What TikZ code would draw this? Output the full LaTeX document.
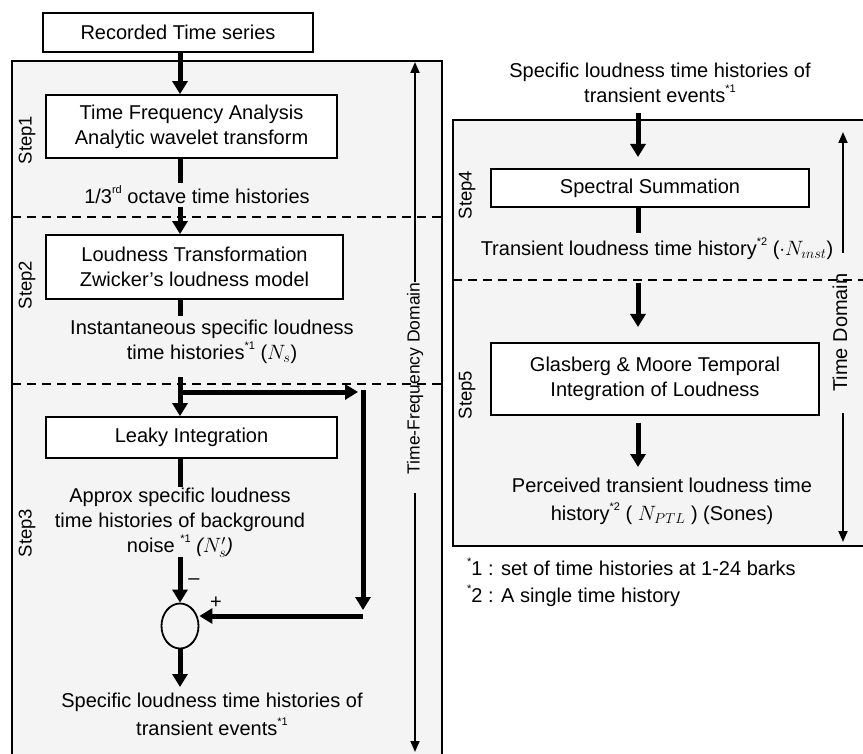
\documentclass[tikz,border=0pt]{standalone}
\usepackage{fontspec}
\setmainfont{Liberation Sans}
\usetikzlibrary{arrows.meta,shapes.geometric}
\definecolor{panel}{HTML}{F4F4F4}
\newcommand\sups[1]{\raisebox{0.5em}{\fontsize{11}{11}\selectfont #1}}
\begin{document}
\begin{tikzpicture}[x=1pt,y=-1pt,
  txt/.style={font=\fontsize{20}{25}\selectfont, inner sep=0pt, align=center},
  boxnode/.style={txt, draw, fill=white, line width=1.8pt},
  panelbox/.style={draw, fill=panel, line width=1.8pt},
  steplabel/.style={font=\fontsize{18.5}{22}\selectfont, rotate=90, inner sep=0pt},
  thk/.style={line width=5pt},
  arr/.style={line width=5pt, -{Triangle[length=13pt,width=15pt]}},
  domarr/.style={line width=1.8pt, -{Triangle[length=11pt,width=9pt]}},
  sep/.style={dash pattern=on 9pt off 6pt, line width=1.5pt},
]
\useasboundingbox (0,0) rectangle (863,754);
% panels
\path[panelbox] (12,61) rectangle (442,780);
\path[panelbox] (453,120) rectangle (890,546);
% separators
\draw[sep] (12,217) -- (442,217);
\draw[sep] (12,384) -- (442,384);
\draw[sep] (453,280) -- (863,280);

% step labels
\node[steplabel] (st1) at (27,140) {Step1};
\node[steplabel] (st2) at (27,285) {Step2};
\node[steplabel] (st3) at (27,533) {Step3};
\node[steplabel] (st4) at (467,195) {Step4};
\node[steplabel] (st5) at (467,395) {Step5};

% domain arrows
\node[font=\fontsize{17.5}{20}\selectfont, rotate=90, inner sep=0pt] (tfd) at (415,378.5) {Time-Frequency Domain};
\coordinate (tfdtop) at (415,62);
\coordinate (tfdlow) at (415,493);
\coordinate (tfdbot) at (415,752);
\draw[domarr] (tfd.east) -- (tfdtop);
\draw[domarr] (tfdlow) -- (tfdbot);
\node[font=\fontsize{20}{22}\selectfont, rotate=90, inner sep=0pt] (td) at (840,332.5) {Time Domain};
\coordinate (tdup1) at (843,253);
\coordinate (tdup2) at (843,132);
\coordinate (tddn1) at (843,413);
\coordinate (tddn2) at (843,542);
\draw[domarr] (tdup1) -- (tdup2);
\draw[domarr] (tddn1) -- (tddn2);

% left column
\coordinate (cL) at (180,0);
\node[boxnode, minimum width=270pt, minimum height=39pt] (rts) at (178,32.5) {Recorded Time series};
\node[boxnode, minimum width=291pt, minimum height=63pt] (tfa) at (191.5,126.5) {Time Frequency Analysis\\Analytic wavelet transform};
\node[boxnode, minimum width=297pt, minimum height=64pt] (lt) at (194.5,267) {Loudness Transformation\\Zwicker’s loudness model};
\node[boxnode, minimum width=291pt, minimum height=41pt] (li) at (191.5,437.5) {Leaky Integration};
\node[draw, ellipse, line width=1.8pt, minimum width=37pt, minimum height=45pt, inner sep=0pt] (sum) at (180,626) {};

\node[txt] (l1) at (197,195) {1/3\sups{rd} octave time histories};
\node[txt] (l2) at (212,342) {Instantaneous specific loudness\\time histories\sups{*1} ($N_s$)};
\node[txt, font=\fontsize{20}{25}\selectfont] (l3) at (180,523) {Approx specific loudness\\time histories of background\\noise \sups{*1} \textit{($N'_s$)}};
\node[txt] (minus) at (194,582) {–};
\node[txt] (plus) at (216,603) {+};
\node[txt, font=\fontsize{20}{28}\selectfont] (l4) at (212,714) {Specific loudness time histories of\\transient events\sups{*1}};

\coordinate (s1) at (180,183);
\coordinate (a1) at (180,207);
\coordinate (s2) at (180,316);
\coordinate (a2) at (180,377);
\coordinate (br) at (180,392);
\coordinate (vt) at (363,392);
\coordinate (vb) at (363,610);
\coordinate (hs) at (363,616);
\coordinate (s3) at (180,487);
\coordinate (a3) at (180,557);
\coordinate (e4) at (180,687);

\draw[arr] (rts.south -| cL) -- (tfa.north -| cL);
\draw[thk] (tfa.south -| cL) -- (s1);
\draw[arr] (a1) -- (lt.north -| cL);
\draw[thk] (lt.south -| cL) -- (s2);
\draw[arr] (a2) -- (li.north -| cL);
\draw[arr] (br) -- ([xshift=-5pt]vt);
\draw[arr] ([yshift=2.5pt]vt) -- (vb);
\draw[thk] (li.south -| cL) -- (s3);
\draw[arr] (a3) -- (sum.north);
\draw[arr] (hs) -- (sum.east |- hs);
\draw[arr] (sum.south) -- (e4);

% right column
\coordinate (cR) at (638,0);
\node[txt] (rtop) at (660,82.5) {Specific loudness time histories of\\transient events\sups{*1}};
\node[boxnode, minimum width=318pt, minimum height=38pt] (ss) at (650,188) {Spectral Summation};
\node[txt] (l5) at (657,249) {Transient loudness time history\sups{*2} ($\cdot N_{\imath nst}$)};
\node[boxnode, minimum width=328pt, minimum height=72pt] (gm) at (655,379) {Glasberg \& Moore Temporal\\Integration of Loudness};
\node[txt, font=\fontsize{20}{28}\selectfont] (l6) at (662,501) {Perceived transient loudness time\\history\sups{*2} ( $N_{PTL}$ ) (Sones)};

\coordinate (r1) at (638,113);
\coordinate (r1e) at (638,157);
\coordinate (r2) at (638,233);
\coordinate (r3) at (638,283);
\coordinate (r3e) at (638,327);
\coordinate (r4s) at (638,423);
\coordinate (r4e) at (638,467);
\draw[arr] (r1) -- (r1e);
\draw[thk] (ss.south -| cR) -- (r2);
\draw[arr] (r3) -- (r3e);
\draw[arr] (r4s) -- (r4e);

% footnotes
\node[txt, anchor=west] (fn1) at (467,567) {\sups{*}1 : set of time histories at 1-24 barks};
\node[txt, anchor=west] (fn2) at (467,596) {\sups{*}2 : A single time history};
\end{tikzpicture}
\end{document}
